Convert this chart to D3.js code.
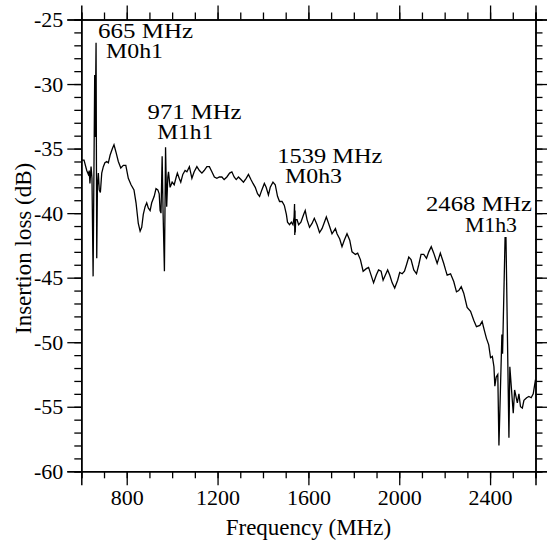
<!DOCTYPE html>
<html>
<head>
<meta charset="utf-8">
<script src="https://cdn.jsdelivr.net/npm/d3@7"></script>
<style>
    body { margin: 0; background: #fff; }
    svg { display: block; }
    text { font-family: "Liberation Serif", "Times New Roman", Times, serif; fill: #000; }
</style>
</head>
<body>
<div id="chart"></div>
<script>
// DATA ----------------------------------------------
// frequency (MHz) and insertion loss (dB)
const freqMHz = [
    600, 612, 624, 631, 635, 638, 643, 647, 652, 659, 661, 665, 668, 671, 675, 679, 684, 690, 697, 704,
    712, 719, 727, 737, 744, 753, 763, 774, 785, 796, 807, 819, 832, 841, 851, 859, 866, 873, 881, 888,
    895, 903, 910, 921, 929, 937, 943, 947, 951, 956, 960, 966, 971, 976, 981, 984, 991, 1000, 1009, 1018,
    1023, 1031, 1038, 1047, 1057, 1065, 1076, 1087, 1097, 1109, 1120, 1131, 1141, 1153, 1164, 1175, 1186, 1197, 1208, 1219,
    1229, 1241, 1253, 1263, 1273, 1282, 1292, 1303, 1314, 1326, 1336, 1347, 1356, 1366, 1376, 1385, 1395, 1406, 1414, 1424,
    1432, 1444, 1454, 1464, 1473, 1484, 1494, 1503, 1508, 1517, 1525, 1532, 1537, 1539, 1540, 1541, 1542, 1544, 1550, 1557,
    1567, 1579, 1586, 1594, 1605, 1616, 1626, 1638, 1649, 1660, 1679, 1689, 1704, 1719, 1726, 1738, 1748, 1758, 1770, 1782,
    1792, 1807, 1817, 1829, 1841, 1855, 1865, 1876, 1887, 1899, 1909, 1920, 1929, 1939, 1949, 1958, 1969, 1980, 1993, 2002,
    2013, 2023, 2032, 2042, 2052, 2064, 2076, 2086, 2096, 2108, 2120, 2130, 2141, 2152, 2167, 2181, 2196, 2204, 2211, 2226,
    2240, 2252, 2262, 2273, 2284, 2299, 2314, 2328, 2340, 2355, 2365, 2375, 2384, 2394, 2402, 2410, 2417, 2421, 2427, 2434,
    2439, 2452, 2455, 2466, 2470, 2483, 2487, 2502, 2508, 2520, 2527, 2534, 2542, 2549, 2561, 2571, 2581, 2590, 2600
];
const lossDB = [
    -35.9, -35.9, -36.7, -37.0, -36.7, -37.7, -36.4, -37.3, -44.9, -29.3, -34.1, -26.8, -43.5, -37.9, -36.9, -38.2, -38.4, -36.9, -36.4, -36.1,
    -36.0, -36.1, -35.5, -35.0, -34.7, -35.3, -36.0, -36.5, -36.3, -36.3, -37.3, -37.8, -38.2, -39.2, -40.8, -41.4, -41.1, -40.1, -39.5, -39.2,
    -39.6, -39.8, -39.2, -38.7, -38.1, -38.2, -38.5, -39.8, -40.0, -35.6, -39.9, -44.5, -34.9, -39.5, -37.2, -36.8, -38.0, -37.6, -37.8, -37.2,
    -36.9, -37.3, -37.6, -37.0, -36.7, -36.8, -36.4, -37.3, -36.8, -36.4, -36.7, -36.9, -36.7, -36.4, -36.4, -36.8, -37.2, -37.3, -37.2, -37.2,
    -37.4, -37.2, -36.9, -36.8, -37.2, -37.4, -37.2, -37.4, -37.6, -37.3, -37.0, -37.4, -37.7, -38.0, -38.5, -38.7, -38.2, -37.7, -38.0, -38.6,
    -38.0, -37.6, -37.8, -38.7, -39.1, -39.1, -39.4, -40.1, -40.7, -40.9, -40.7, -40.9, -40.3, -39.3, -41.7, -39.8, -41.5, -40.5, -40.5, -40.9,
    -40.7, -40.1, -39.8, -40.5, -41.1, -40.8, -40.4, -40.9, -41.5, -41.2, -40.3, -40.8, -41.6, -41.2, -41.6, -42.0, -42.6, -42.1, -41.6, -42.1,
    -43.0, -43.2, -43.1, -43.6, -44.5, -44.3, -44.2, -44.8, -45.4, -44.8, -44.4, -44.5, -45.2, -44.8, -44.4, -44.8, -45.4, -45.8, -45.2, -44.6,
    -44.7, -44.5, -44.0, -43.4, -43.6, -44.4, -44.7, -44.0, -43.2, -43.2, -43.5, -43.0, -42.6, -43.1, -43.9, -43.1, -43.9, -44.4, -44.8, -44.7,
    -45.3, -46.1, -46.0, -45.7, -46.2, -47.3, -47.6, -48.3, -48.8, -48.7, -48.4, -49.1, -49.7, -50.2, -51.2, -51.1, -51.9, -53.4, -52.7, -52.5,
    -58.0, -49.4, -50.9, -41.9, -41.9, -57.4, -51.9, -55.5, -53.7, -54.7, -54.0, -55.0, -55.1, -54.5, -54.3, -54.2, -54.3, -54.0, -52.9
];

// resonance markers
const markerFreq = [665, 971, 1539, 2468];
const markerMode = ["M0h1", "M1h1", "M0h3", "M1h3"];

// axis ticks
const xMajorTicks = [800, 1200, 1600, 2000, 2400];
const xMinorTicks = d3.range(600, 2601, 100);
const yMajorTicks = [-25, -30, -35, -40, -45, -50, -55, -60];
const yMinorTicks = d3.range(-60, -24, 1);

// LAYOUT --------------------------------------------
var width = 547, height = 542;
var plot = {left: 81.3, right: 535.5, top: 19.5, bottom: 471.3};
var majorLen = 14, minorLen = 7;
var serif = '"Liberation Serif", "Times New Roman", Times, serif';
// where each marker label sits: x offset from the spike, baselines, widths
var labelLayout = [
    {dx1: 2,     y1: 38,    w1: 95,  dx2: 10,    y2: 58,    w2: 57},
    {dx1: -18,   y1: 118.5, w1: 94,  dx2: -8.3,  y2: 138.7, w2: 56},
    {dx1: -17.2, y1: 163.3, w1: 105, dx2: -9.5,  y2: 183.3, w2: 57},
    {dx1: -79.5, y1: 210.7, w1: 106, dx2: -40.5, y2: 231.7, w2: 52}
];

var svg = d3.select("#chart")
    .append("svg")
        .attr("width", width)
        .attr("height", height)
        .style("font-family", serif);

var x = d3.scaleLinear().domain([600, 2600]).range([plot.left, plot.right]);
var y = d3.scaleLinear().domain([-60, -25]).range([plot.bottom, plot.top]);

// plain hyphen for negatives, as in the original figure
var plainFmt = d => String(d);

// helper to style an axis group
function styleAxis(g) {
    g.attr("font-family", serif).attr("font-size", 22);
    g.select(".domain").attr("stroke", "#000").attr("stroke-width", 1.5);
    g.selectAll(".tick line").attr("stroke", "#000").attr("stroke-width", 1.3);
    g.selectAll(".tick text").style("font-family", serif).style("font-size", "22px").attr("fill", "#000");
}

// bottom + top axes (minor then major)
[["bottom", plot.bottom, d3.axisBottom], ["top", plot.top, d3.axisTop]].forEach(([side, pos, axisFn]) => {
    svg.append("g")
        .attr("transform", `translate(0,${pos})`)
        .call(axisFn(x).tickValues(xMinorTicks).tickSize(minorLen).tickFormat(""))
        .call(styleAxis);
    svg.append("g")
        .attr("transform", `translate(0,${pos})`)
        .call(axisFn(x).tickValues(xMajorTicks).tickSize(majorLen).tickPadding(4)
            .tickFormat(side == "bottom" ? plainFmt : ""))
        .call(styleAxis);
});

// left + right axes
[["left", plot.left, d3.axisLeft], ["right", plot.right, d3.axisRight]].forEach(([side, pos, axisFn]) => {
    svg.append("g")
        .attr("transform", `translate(${pos},0)`)
        .call(axisFn(y).tickValues(yMinorTicks).tickSize(minorLen).tickFormat(""))
        .call(styleAxis);
    svg.append("g")
        .attr("transform", `translate(${pos},0)`)
        .call(axisFn(y).tickValues(yMajorTicks).tickSize(majorLen).tickPadding(4)
            .tickFormat(side == "left" ? plainFmt : ""))
        .call(styleAxis);
});

// the trace
var points = freqMHz.map((f, i) => [f, lossDB[i]]);
svg.append("path")
    .datum(points)
    .attr("fill", "none")
    .attr("stroke", "#000")
    .attr("stroke-width", 1.3)
    .attr("stroke-linejoin", "miter")
    .attr("d", d3.line().x(d => x(d[0])).y(d => y(d[1])));

// marker labels
markerFreq.forEach((f, i) => {
    let L = labelLayout[i];
    svg.append("text")
        .attr("x", x(f) + L.dx1)
        .attr("y", L.y1)
        .attr("textLength", L.w1)
        .attr("lengthAdjust", "spacingAndGlyphs")
        .style("font-size", "20px")
        .text(f + " MHz");
    svg.append("text")
        .attr("x", x(f) + L.dx2)
        .attr("y", L.y2)
        .attr("textLength", L.w2)
        .attr("lengthAdjust", "spacingAndGlyphs")
        .style("font-size", "20px")
        .text(markerMode[i]);
});

// axis titles
svg.append("text")
    .attr("x", (plot.left + plot.right) / 2)
    .attr("y", 535)
    .attr("text-anchor", "middle")
    .style("font-size", "23px")
    .text("Frequency (MHz)");

svg.append("text")
    .attr("transform", `translate(31,${(plot.top + plot.bottom) / 2 + 3}) rotate(-90)`)
    .attr("text-anchor", "middle")
    .style("font-size", "23px")
    .text("Insertion loss (dB)");
</script>
</body>
</html>
